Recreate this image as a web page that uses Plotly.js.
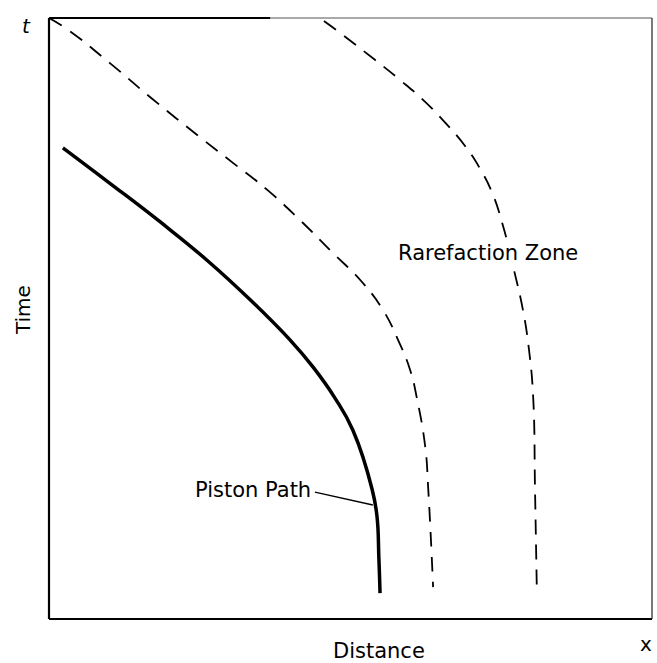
<!DOCTYPE html>
<html>
<head>
<meta charset="utf-8">
<script src="https://cdn.plot.ly/plotly-3.0.1.min.js"></script>
<style>html,body{margin:0;padding:0;background:#fff;}#chart{width:657px;height:663px;}</style>
</head>
<body>
<div id="chart"></div>
<script>
// Distance (x) and time (t) in arbitrary units, 0-100 across the box
const pistonX = [2.3, 10.1, 18.4, 26.2, 33.8, 40.0, 43.8, 47.4, 50.4, 53.6, 54.4, 54.7, 54.9];
const pistonT = [78.4, 72.5, 66.1, 59.7, 52.7, 46.4, 41.9, 36.8, 31.4, 21.5, 17.0, 10.3, 4.3];

const front1X = [0, 3.2, 10.1, 16.7, 25.0, 30.5, 36.2, 41.6, 47.1, 51.8, 55.4, 57.9, 59.9, 61.0, 62.4, 62.9, 63.7];
const front1T = [100, 98.0, 92.5, 86.9, 80.2, 75.9, 71.4, 66.4, 60.9, 56.2, 51.4, 46.4, 41.4, 36.8, 28.6, 21.5, 5.3];

const front2X = [45.6, 48.3, 54.1, 58.2, 61.9, 65.7, 69.0, 71.5, 73.5, 75.3, 77.1, 78.6, 79.6, 80.3, 80.6, 80.9];
const front2T = [99.5, 97.5, 93.0, 89.7, 86.5, 82.6, 78.7, 74.9, 70.9, 65.4, 58.1, 51.4, 44.8, 36.8, 21.5, 4.8];

const FONT = 'DejaVu Sans, Arial, sans-serif';

const traces = [
  {x: pistonX, y: pistonT, mode: 'lines', line: {color: '#000', width: 3.5, shape: 'spline', smoothing: 1.3}, hoverinfo: 'skip'},
  {x: front1X, y: front1T, mode: 'lines', line: {color: '#000', width: 1.8, dash: '15px,10px', shape: 'spline', smoothing: 1.3}, hoverinfo: 'skip'},
  {x: front2X, y: front2T, mode: 'lines', line: {color: '#000', width: 1.8, dash: '15px,10px', shape: 'spline', smoothing: 1.3}, hoverinfo: 'skip'}
];

const layout = {
  width: 657, height: 663,
  margin: {l: 49, r: 5, t: 18, b: 44, pad: 0},
  paper_bgcolor: '#fff', plot_bgcolor: '#fff',
  showlegend: false,
  font: {family: FONT, color: '#000'},
  xaxis: {range: [0, 100], showgrid: false, zeroline: false, showticklabels: false, ticks: '', showline: false, fixedrange: true},
  yaxis: {range: [0, 100], showgrid: false, zeroline: false, showticklabels: false, ticks: '', showline: false, fixedrange: true},
  shapes: [
    {type: 'line', xref: 'paper', yref: 'paper', x0: 0, x1: 0, y0: 0, y1: 1, line: {color: '#000', width: 2.2}},
    {type: 'line', xref: 'paper', yref: 'paper', x0: 0, x1: 1, y0: 0, y1: 0, line: {color: '#000', width: 2.2}},
    {type: 'line', xref: 'paper', yref: 'paper', x0: 0, x1: 0.367, y0: 1, y1: 1, line: {color: '#000', width: 2}},
    {type: 'line', xref: 'paper', yref: 'paper', x0: 0.367, x1: 1, y0: 1, y1: 1, line: {color: '#555', width: 1}},
    {type: 'line', xref: 'paper', yref: 'paper', x0: 1, x1: 1, y0: 0, y1: 1, line: {color: '#222', width: 1.2}},
    {type: 'line', xref: 'x', yref: 'y', x0: 44.1, y0: 21.1, x1: 53.7, y1: 18.97, line: {color: '#000', width: 1.4}}
  ],
  annotations: [
    {text: 'Rarefaction Zone', x: 72.8, y: 60.9, xref: 'x', yref: 'y', showarrow: false,
     font: {size: 21, family: FONT}, bgcolor: '#fff', xanchor: 'center', yanchor: 'middle'},
    {text: 'Piston Path', x: 33.8, y: 21.5, xref: 'x', yref: 'y', showarrow: false,
     font: {size: 21, family: FONT}, xanchor: 'center', yanchor: 'middle'},
    {text: 'Time', x: -0.0431, y: 0.514, xref: 'paper', yref: 'paper', showarrow: false, textangle: -90,
     font: {size: 20, family: FONT}, xanchor: 'center', yanchor: 'middle'},
    {text: 'Distance', x: 0.547, y: -0.054, xref: 'paper', yref: 'paper', showarrow: false,
     font: {size: 21, family: FONT}, xanchor: 'center', yanchor: 'middle'},
    {text: '<i>t</i>', x: -0.0365, y: 0.987, xref: 'paper', yref: 'paper', showarrow: false,
     font: {size: 20, family: FONT}, xanchor: 'center', yanchor: 'middle'},
    {text: 'x', x: 0.990, y: -0.0416, xref: 'paper', yref: 'paper', showarrow: false,
     font: {size: 20, family: FONT}, xanchor: 'center', yanchor: 'middle'}
  ]
};

Plotly.newPlot('chart', traces, layout, {displayModeBar: false, staticPlot: true});
</script>
</body>
</html>
